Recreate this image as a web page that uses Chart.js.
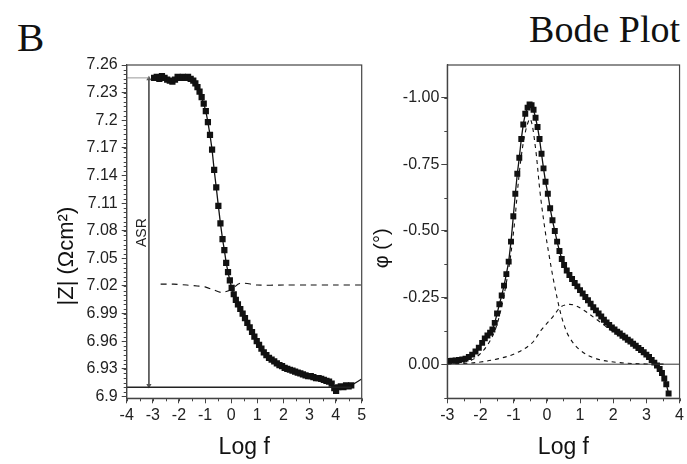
<!DOCTYPE html>
<html>
<head>
<meta charset="utf-8">
<script src="https://cdn.jsdelivr.net/npm/chart.js@4.4.0/dist/chart.umd.min.js"></script>
<style>
  body { margin: 0; background: #fff; width: 687px; height: 464px; overflow: hidden; position: relative; }
  .panel { position: absolute; top: 0; height: 464px; }
  #zBox { left: 0; width: 370px; }
  #phiBox { left: 360px; width: 327px; }
  .lbl { position: absolute; font-family: 'Liberation Serif', 'Times New Roman', serif; color: #111; line-height: 1; white-space: nowrap; }
  #panelLetter { left: 17px; top: 17px; font-size: 41px; }
  #plotTitle { right: 7px; top: 10px; font-size: 38px; }
</style>
</head>
<body>
<div id="panelLetter" class="lbl">B</div>
<div id="plotTitle" class="lbl">Bode Plot</div>
<div class="panel" id="zBox"><canvas id="zChart" width="370" height="464"></canvas></div>
<div class="panel" id="phiBox"><canvas id="phiChart" width="327" height="464"></canvas></div>
<script>
// ---- |Z| panel ----
const zLogF = [-2.95, -2.85, -2.75, -2.65, -2.55, -2.45, -2.35, -2.25, -2.15, -2.05,
               -1.95, -1.85, -1.75, -1.65, -1.55, -1.45, -1.37, -1.29, -1.21, -1.13,
               -1.05, -0.97, -0.89, -0.81, -0.73, -0.65, -0.57, -0.49, -0.41, -0.33,
               -0.26, -0.19, -0.12, -0.05, 0.02, 0.10, 0.18, 0.26, 0.35, 0.44,
               0.53, 0.62, 0.71, 0.80, 0.89, 0.98, 1.07, 1.16, 1.25, 1.35,
               1.45, 1.55, 1.65, 1.75, 1.85, 1.95, 2.05, 2.15, 2.25, 2.35,
               2.45, 2.55, 2.65, 2.75, 2.85, 2.95, 3.05, 3.15, 3.25, 3.35,
               3.45, 3.55, 3.65, 3.75, 3.85, 3.95, 4.02, 4.10, 4.20, 4.30,
               4.40, 4.50, 4.60];
const zMag = [7.246, 7.247, 7.245, 7.248, 7.246, 7.244, 7.243, 7.242, 7.244, 7.247,
              7.246, 7.247, 7.246, 7.247, 7.245, 7.243, 7.240, 7.236, 7.231, 7.225,
              7.218, 7.210, 7.198, 7.184, 7.168, 7.146, 7.127, 7.107, 7.088, 7.071,
              7.059, 7.045, 7.035, 7.026, 7.018, 7.011, 7.005, 7.000, 6.995, 6.990,
              6.985, 6.980, 6.975, 6.970, 6.965, 6.960, 6.956, 6.952, 6.948, 6.945,
              6.942, 6.940, 6.938, 6.936, 6.934, 6.933, 6.931, 6.930, 6.929, 6.928,
              6.927, 6.926, 6.925, 6.924, 6.923, 6.922, 6.922, 6.921, 6.920, 6.920,
              6.919, 6.918, 6.917, 6.916, 6.914, 6.909, 6.906, 6.910, 6.911, 6.910,
              6.912, 6.911, 6.912];
const zFitLogF = [4.60, 5.00];
const zFitMag = [6.912, 6.919];
const zDashLogF = [-2.7, -2.2, -1.7, -1.3, -1.0, -0.7, -0.4, -0.3, 0.0, 0.35, 1.0, 2.0, 3.0, 4.0, 5.0];
const zDashMag = [7.022, 7.022, 7.021, 7.020, 7.019, 7.016, 7.013, 7.013, 7.016, 7.023, 7.021, 7.021, 7.021, 7.021, 7.021];
const asrLogF = [-3.15, -3.15];
const asrMag = [7.245, 6.912];
const asrLeaderLogF = [-4, -3.15];
const asrLeaderMag = [7.246, 7.246];
const zBaseLogF = [-4, 4.6];
const zBaseMag = [6.910, 6.910];
const zYTicks = [6.9, 6.93, 6.96, 6.99, 7.02, 7.05, 7.08, 7.11, 7.14, 7.17, 7.2, 7.23, 7.26];
const zXTicks = [-4, -3, -2, -1, 0, 1, 2, 3, 4, 5];

// ---- phase panel ----
const phiLogF = [-2.95, -2.85, -2.75, -2.65, -2.55, -2.45, -2.35, -2.25, -2.15, -2.05,
                 -1.95, -1.87, -1.79, -1.71, -1.64, -1.57, -1.50, -1.43, -1.36, -1.29,
                 -1.22, -1.15, -1.08, -1.01, -0.95, -0.89, -0.83, -0.77, -0.71, -0.65,
                 -0.58, -0.52, -0.46, -0.40, -0.34, -0.28, -0.22, -0.16, -0.10, -0.04,
                 0.03, 0.10, 0.17, 0.24, 0.31, 0.38, 0.45, 0.52, 0.60, 0.68,
                 0.76, 0.84, 0.92, 1.00, 1.08, 1.16, 1.24, 1.32, 1.40, 1.48,
                 1.56, 1.64, 1.72, 1.80, 1.88, 1.96, 2.04, 2.12, 2.20, 2.28,
                 2.36, 2.44, 2.52, 2.60, 2.68, 2.76, 2.84, 2.92, 3.00, 3.08,
                 3.16, 3.24, 3.32, 3.40, 3.47, 3.54, 3.60, 3.67];
const phiVal = [-0.012, -0.013, -0.014, -0.016, -0.018, -0.021, -0.027, -0.036, -0.048, -0.062,
                -0.080, -0.097, -0.108, -0.118, -0.130, -0.155, -0.190, -0.225, -0.258, -0.295,
                -0.338, -0.385, -0.460, -0.555, -0.640, -0.715, -0.775, -0.845, -0.900, -0.940,
                -0.963, -0.975, -0.972, -0.955, -0.925, -0.890, -0.845, -0.790, -0.735, -0.685,
                -0.640, -0.585, -0.540, -0.500, -0.460, -0.425, -0.395, -0.372, -0.352, -0.335,
                -0.320, -0.305, -0.292, -0.278, -0.265, -0.252, -0.240, -0.227, -0.214, -0.202,
                -0.190, -0.179, -0.167, -0.157, -0.147, -0.138, -0.130, -0.122, -0.115, -0.107,
                -0.100, -0.092, -0.085, -0.077, -0.069, -0.061, -0.053, -0.045, -0.036, -0.027,
                -0.016, -0.006, 0.005, 0.018, 0.033, 0.054, 0.075, 0.110];
const c1LogF = [-3.0, -2.6, -2.2, -1.8, -1.5, -1.2, -1.0, -0.81, -0.65, -0.5, -0.35, -0.2, -0.05, 0.08, 0.21, 0.37, 0.5, 0.67, 1.0, 1.5, 2.2, 3.0, 3.6];
const c1Phi = [-0.001, -0.005, -0.02, -0.07, -0.15, -0.32, -0.50, -0.74, -0.87, -0.92, -0.82, -0.64, -0.50, -0.40, -0.31, -0.215, -0.155, -0.103, -0.053, -0.02, -0.006, -0.001, 0];
const c2LogF = [-3.0, -2.5, -2.0, -1.45, -0.95, -0.46, -0.17, 0.18, 0.42, 0.62, 0.82, 1.11, 1.5, 2.0, 2.5, 3.0, 3.3];
const c2Phi = [-0.001, -0.003, -0.008, -0.021, -0.040, -0.078, -0.128, -0.178, -0.215, -0.224, -0.222, -0.203, -0.168, -0.122, -0.082, -0.035, -0.008];
const zeroLogF = [-3, 4];
const zeroPhi = [0, 0];
const phiYTicks = [-1, -0.75, -0.5, -0.25, 0];
const phiXTicks = [-3, -2, -1, 0, 1, 2, 3, 4];

const ink = '#111';
const axisClr = '#444';

Chart.defaults.font.family = "'Liberation Sans', Arial, sans-serif";
Chart.defaults.color = '#222';

function pts(xs, ys) {
    return xs.map(function (x, i) { return { x: x, y: ys[i] }; });
}

// box around the plot area
const framePlugin = {
    id: 'frame',
    afterDraw(chart) {
        const a = chart.chartArea, ctx = chart.ctx;
        ctx.save();
        ctx.strokeStyle = axisClr;
        ctx.lineWidth = 1.2;
        ctx.strokeRect(a.left, a.top, a.right - a.left, a.bottom - a.top);
        ctx.restore();
    }
};

// short unlabelled ticks between the labelled ones
const minorTicksPlugin = {
    id: 'minorTicks',
    afterDraw(chart, args, opts) {
        const a = chart.chartArea, ctx = chart.ctx;
        const sx = chart.scales.x, sy = chart.scales.y;
        ctx.save();
        ctx.strokeStyle = axisClr;
        ctx.lineWidth = 1;
        ctx.beginPath();
        let start = Math.ceil(sx.min / opts.x - 1e-6) * opts.x;
        for (let i = 0; ; i++) {
            const v = start + i * opts.x;
            if (v > sx.max + 1e-9) break;
            const px = Math.round(sx.getPixelForValue(v)) + 0.5;
            ctx.moveTo(px, a.bottom);
            ctx.lineTo(px, a.bottom + opts.len);
        }
        const lo = Math.min(sy.min, sy.max), hi = Math.max(sy.min, sy.max);
        start = Math.ceil(lo / opts.y - 1e-6) * opts.y;
        for (let i = 0; ; i++) {
            const v = start + i * opts.y;
            if (v > hi + 1e-9) break;
            const py = Math.round(sy.getPixelForValue(v)) + 0.5;
            ctx.moveTo(a.left, py);
            ctx.lineTo(a.left - opts.len, py);
        }
        ctx.stroke();
        ctx.restore();
    }
};

const asrLabel = {
    id: 'asrLabel',
    afterDatasetsDraw(chart) {
        const ctx = chart.ctx;
        const px = chart.scales.x.getPixelForValue(-3.42);
        const py = chart.scales.y.getPixelForValue(7.078);
        ctx.save();
        ctx.translate(px, py);
        ctx.rotate(-Math.PI / 2);
        ctx.fillStyle = '#222';
        ctx.font = "14px 'Liberation Sans', Arial, sans-serif";
        ctx.textAlign = 'center';
        ctx.textBaseline = 'middle';
        ctx.fillText('ASR', 0, 0);
        ctx.restore();
    }
};

function linearAxis(min, max, tickValues, fmt, size, title, extra) {
    const ax = {
        type: 'linear',
        min: min,
        max: max,
        afterBuildTicks: function (s) { s.ticks = tickValues.map(function (v) { return { value: v }; }); },
        ticks: { font: { size: 16 }, color: '#222', autoSkip: false, maxRotation: 0, padding: 3, callback: fmt },
        grid: { drawOnChartArea: false, tickLength: 5, tickColor: axisClr },
        border: { color: axisClr, width: 1.2 },
        title: { display: true, text: title, color: '#111', font: { size: size } }
    };
    return Object.assign(ax, extra || {});
}

const baseOpts = {
    responsive: false,
    animation: false,
    events: [],
    plugins: { legend: { display: false }, tooltip: { enabled: false } }
};

// |Z| chart
const zAxisY = linearAxis(6.898, 7.26, zYTicks, function (v) { return String(+v.toFixed(2)); }, 22,
    '|Z| (\u03A9cm\u00B2)        ', { afterFit: function (s) { s.width = 126.7; } });
zAxisY.ticks.padding = 4;
zAxisY.title.padding = { top: 54, bottom: 0 };
const zAxisX = linearAxis(-4, 5, zXTicks, function (v) { return String(v); }, 23, 'Log f',
    { afterFit: function (s) { s.height = 65.7; } });
zAxisX.title.padding = { top: 0, bottom: 3 };

new Chart(document.getElementById('zChart'), {
    type: 'scatter',
    data: {
        datasets: [
            { data: pts(zDashLogF, zDashMag), showLine: true, borderColor: ink, borderWidth: 1.1, borderDash: [6, 5], pointRadius: 0, tension: 0.3 },
            { data: pts(asrLeaderLogF, asrLeaderMag), showLine: true, borderColor: '#999', borderWidth: 1, pointRadius: 0 },
            { data: pts(zBaseLogF, zBaseMag), showLine: true, borderColor: '#222', borderWidth: 1.4, pointRadius: 0 },
            { data: pts(asrLogF, asrMag), showLine: true, borderColor: '#555', borderWidth: 1, pointStyle: 'triangle', pointRadius: 3,
              pointRotation: [0, 180], backgroundColor: '#555', pointBorderWidth: 0 },
            { data: pts(zFitLogF, zFitMag), showLine: true, borderColor: ink, borderWidth: 1.2, pointRadius: 0 },
            { data: pts(zLogF, zMag), showLine: true, borderColor: ink, borderWidth: 1.3, pointStyle: 'rect', pointRadius: 4.4,
              backgroundColor: ink, pointBorderWidth: 0 }
        ]
    },
    options: Object.assign({}, baseOpts, {
        layout: { padding: { top: 65, right: 8.3, left: 0, bottom: 0 } },
        scales: { x: zAxisX, y: zAxisY },
        plugins: Object.assign({}, baseOpts.plugins, { minorTicks: { x: 0.5, y: 0.005, len: 3 } })
    }),
    plugins: [framePlugin, minorTicksPlugin, asrLabel]
});

// phase chart
const phiAxisY = linearAxis(-1.123, 0.128, phiYTicks, function (v) { return v.toFixed(2); }, 20,
    '\u03C6 (\u00B0)      ', { reverse: true, afterFit: function (s) { s.width = 87.3; } });
phiAxisY.ticks.padding = 2;
phiAxisY.grid.tickLength = 6;
phiAxisY.title.padding = { top: 10, bottom: 0 };
const phiAxisX = linearAxis(-3, 4, phiXTicks, function (v) { return String(v); }, 23, 'Log f',
    { afterFit: function (s) { s.height = 65.7; } });
phiAxisX.title.padding = { top: 0, bottom: 3 };

new Chart(document.getElementById('phiChart'), {
    type: 'scatter',
    data: {
        datasets: [
            { data: pts(zeroLogF, zeroPhi), showLine: true, borderColor: '#333', borderWidth: 1, pointRadius: 0 },
            { data: pts(c1LogF, c1Phi), showLine: true, borderColor: ink, borderWidth: 1.1, borderDash: [4, 4], pointRadius: 0, tension: 0.35 },
            { data: pts(c2LogF, c2Phi), showLine: true, borderColor: ink, borderWidth: 1.1, borderDash: [4, 4], pointRadius: 0, tension: 0.35 },
            { data: pts(phiLogF, phiVal), showLine: true, borderColor: ink, borderWidth: 1.3, pointStyle: 'rect', pointRadius: 4.2,
              backgroundColor: ink, pointBorderWidth: 0 }
        ]
    },
    options: Object.assign({}, baseOpts, {
        layout: { padding: { top: 65, right: 2, left: 0, bottom: 0 } },
        scales: { x: phiAxisX, y: phiAxisY },
        plugins: Object.assign({}, baseOpts.plugins, { minorTicks: { x: 0.5, y: 0.125, len: 3 } })
    }),
    plugins: [framePlugin, minorTicksPlugin]
});
</script>
</body>
</html>
